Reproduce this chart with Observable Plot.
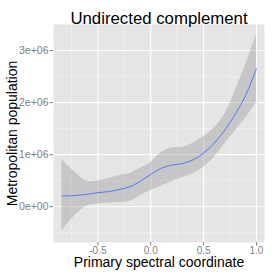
<!DOCTYPE html>
<html>
<head>
<meta charset="utf-8">
<script src="https://cdn.jsdelivr.net/npm/d3@7"></script>
<script src="https://cdn.jsdelivr.net/npm/@observablehq/plot@0.6"></script>
<style>
  html, body { margin: 0; padding: 0; background: #fff; }
  svg { display: block; }
</style>
</head>
<body>
<div id="chart"></div>
<script>
const title = "Undirected complement";
const xLabel = "Primary spectral coordinate";
const yLabel = "Metropolitan population";

const xs    = [-0.84, -0.75, -0.6, -0.5, -0.4, -0.3, -0.2, -0.1, 0.0, 0.1, 0.2, 0.3, 0.4, 0.5, 0.6, 0.7, 0.8, 0.9, 1.0];
const fit   = [0.21, 0.21, 0.24, 0.27, 0.29, 0.33, 0.38, 0.49, 0.62, 0.74, 0.80, 0.83, 0.90, 1.03, 1.22, 1.47, 1.78, 2.15, 2.65].map(v => v * 1e6);
const upper = [0.90, 0.72, 0.49, 0.50, 0.54, 0.60, 0.64, 0.74, 0.85, 1.04, 1.13, 1.14, 1.22, 1.35, 1.51, 1.78, 2.23, 2.74, 3.31].map(v => v * 1e6);
const lower = [-0.47, -0.24, 0.02, 0.05, 0.07, 0.08, 0.10, 0.21, 0.31, 0.40, 0.48, 0.56, 0.64, 0.76, 0.95, 1.21, 1.46, 1.71, 2.00].map(v => v * 1e6);

const xMajor = [-0.5, 0, 0.5, 1.0];
const xMinor = [-0.75, -0.25, 0.25, 0.75];
const yMajor = [0, 1e6, 2e6, 3e6];
const yMinor = [-0.5e6, 0.5e6, 1.5e6, 2.5e6];

const data = xs.map((x, i) => ({x, fit: fit[i], lo: lower[i], hi: upper[i]}));

const fmtY = d => {
  if (d === 0) return "0e+00";
  const [m, e] = d.toExponential(0).split("e");
  const sign = e[0];
  const num = e.slice(1).padStart(2, "0");
  return `${m}e${sign}${num}`;
};

const chart = Plot.plot({
  width: 273,
  height: 273,
  marginLeft: 53,
  marginRight: 9,
  marginTop: 24,
  marginBottom: 31,
  style: {fontFamily: "'Liberation Sans', Arial, sans-serif", background: "#fff"},
  x: {domain: [-0.92, 1.076]},
  y: {domain: [-0.687e6, 3.5e6]},
  marks: [
    Plot.frame({fill: "#E5E5E5", stroke: null}),
    Plot.ruleX(xMinor, {stroke: "#F2F2F2", strokeWidth: 0.6}),
    Plot.ruleY(yMinor, {stroke: "#F2F2F2", strokeWidth: 0.6}),
    Plot.ruleX(xMajor, {stroke: "#FFFFFF", strokeWidth: 1.1}),
    Plot.ruleY(yMajor, {stroke: "#FFFFFF", strokeWidth: 1.1}),
    Plot.areaY(data, {x: "x", y1: "lo", y2: "hi", fill: "#999999", fillOpacity: 0.4, curve: "catmull-rom"}),
    Plot.line(data, {x: "x", y: "fit", stroke: "#3366FF", strokeWidth: 0.8, curve: "catmull-rom"}),
    Plot.axisX({ticks: xMajor, tickFormat: d => d.toFixed(1), tickSize: 3.5, tickPadding: 0.5, fontSize: 10, color: "#7F7F7F", label: null}),
    Plot.axisY({ticks: yMajor, tickFormat: fmtY, tickSize: 3.5, tickPadding: 1.5, fontSize: 10.5, color: "#7F7F7F", label: null}),
    Plot.text([title], {frameAnchor: "top", dy: -6.1, fontSize: 16.8, fill: "#000", lineAnchor: "middle", textAnchor: "middle"}),
    Plot.text([xLabel], {frameAnchor: "bottom", dy: 20.3, fontSize: 14, fill: "#000", lineAnchor: "middle", textAnchor: "middle"}),
    Plot.text([yLabel], {frameAnchor: "left", dx: -40.5, rotate: -90, fontSize: 14, fill: "#000", lineAnchor: "middle", textAnchor: "middle"})
  ]
});
document.getElementById("chart").appendChild(chart);
</script>
</body>
</html>
